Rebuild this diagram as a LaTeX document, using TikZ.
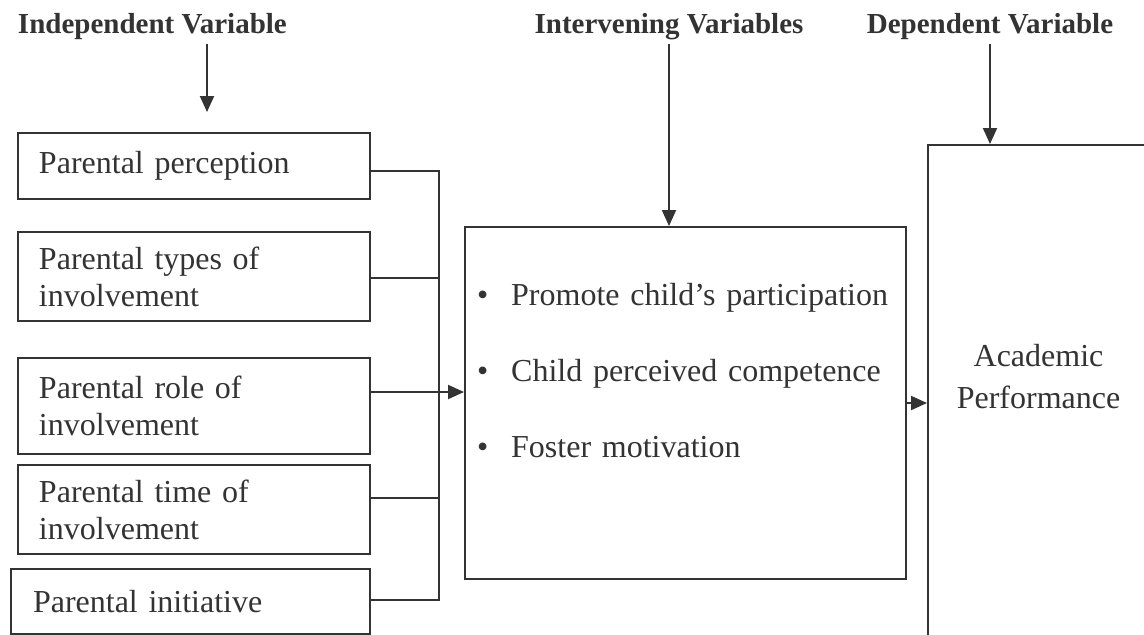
\documentclass[tikz,border=0pt]{standalone}
\usepackage{fontspec}
\setmainfont{Liberation Serif}
\usepackage{xcolor}
\usetikzlibrary{arrows.meta,positioning,calc}
\definecolor{ink}{HTML}{333333}

\begin{document}
\begin{tikzpicture}[x=0.5pt, y=-0.5pt, line width=1pt, color=ink,
    box/.style={draw, rectangle, anchor=north west, inner ysep=0pt, align=left, font=\fontsize{16}{18.5}\selectfont},
    head/.style={inner sep=2pt, font=\fontsize{14.5}{17}\selectfont\bfseries},
    arr/.style={-{Triangle[length=8pt, width=7pt]}}]
    \path[use as bounding box, fill=white] (0,0) rectangle (1144,634);

    % headings
    \node[head, anchor=base west] (indep) at (13,33) {Independent Variable};
    \node[head, anchor=base] (interv) at (669,33) {Intervening Variables};
    \node[head, anchor=base] (dep) at (990,33) {Dependent Variable};

    % independent variables
    \node[box, text width=155pt, inner xsep=10.5pt, minimum height=33pt] (p1) at (17,132) {Parental perception};
    \node[box, text width=155pt, inner xsep=10.5pt, minimum height=44.5pt] (p2) at (17,231) {Parental types of\\involvement};
    \node[box, text width=155pt, inner xsep=10.5pt, minimum height=48pt] (p3) at (17,357) {Parental role of\\involvement};
    \node[box, text width=155pt, inner xsep=10.5pt, minimum height=44.5pt] (p4) at (17,464) {Parental time of\\involvement};
    \node[box, text width=157.5pt, inner xsep=11pt, minimum height=32.5pt] (p5) at (10,568) {Parental initiative};

    % intervening and dependent
    \node[box, text width=208.5pt, inner xsep=6pt, minimum height=176pt, font=\fontsize{16}{38}\selectfont] (mid) at (464,226)
        {\textbullet\hspace{11.5pt}Promote child's participation\\
         \textbullet\hspace{11.5pt}Child perceived competence\\
         \textbullet\hspace{11.5pt}Foster motivation\rule[-33pt]{0pt}{33pt}};
    \node[box, align=center, minimum width=110.5pt, minimum height=258pt, font=\fontsize{16}{21}\selectfont] (perf) at (927,144)
        {Academic\\Performance\rule[-27pt]{0pt}{27pt}};

    % joints on the bus line
    \coordinate (j1) at (439,171);
    \coordinate (j2) at (439,278);
    \coordinate (j3) at (439,392);
    \coordinate (j4) at (439,498);
    \coordinate (j5) at (439,600);
    \coordinate (ivtip) at (207,112);

    \draw (p1.east |- j1) -- (j1) -- (j5) -- (p5.east |- j5);
    \draw (p2.east |- j2) -- (j2);
    \draw (p4.east |- j4) -- (j4);
    \draw[arr] (p3.east |- j3) -- (mid.west |- j3);
    \draw[arr] (mid.east) -- (mid.east -| perf.west);

    \draw[arr] (indep.south -| ivtip) -- (ivtip);
    \draw[arr] (interv.south) -- (interv.south |- mid.north);
    \draw[arr] (dep.south) -- (dep.south |- perf.north);
\end{tikzpicture}
\end{document}
